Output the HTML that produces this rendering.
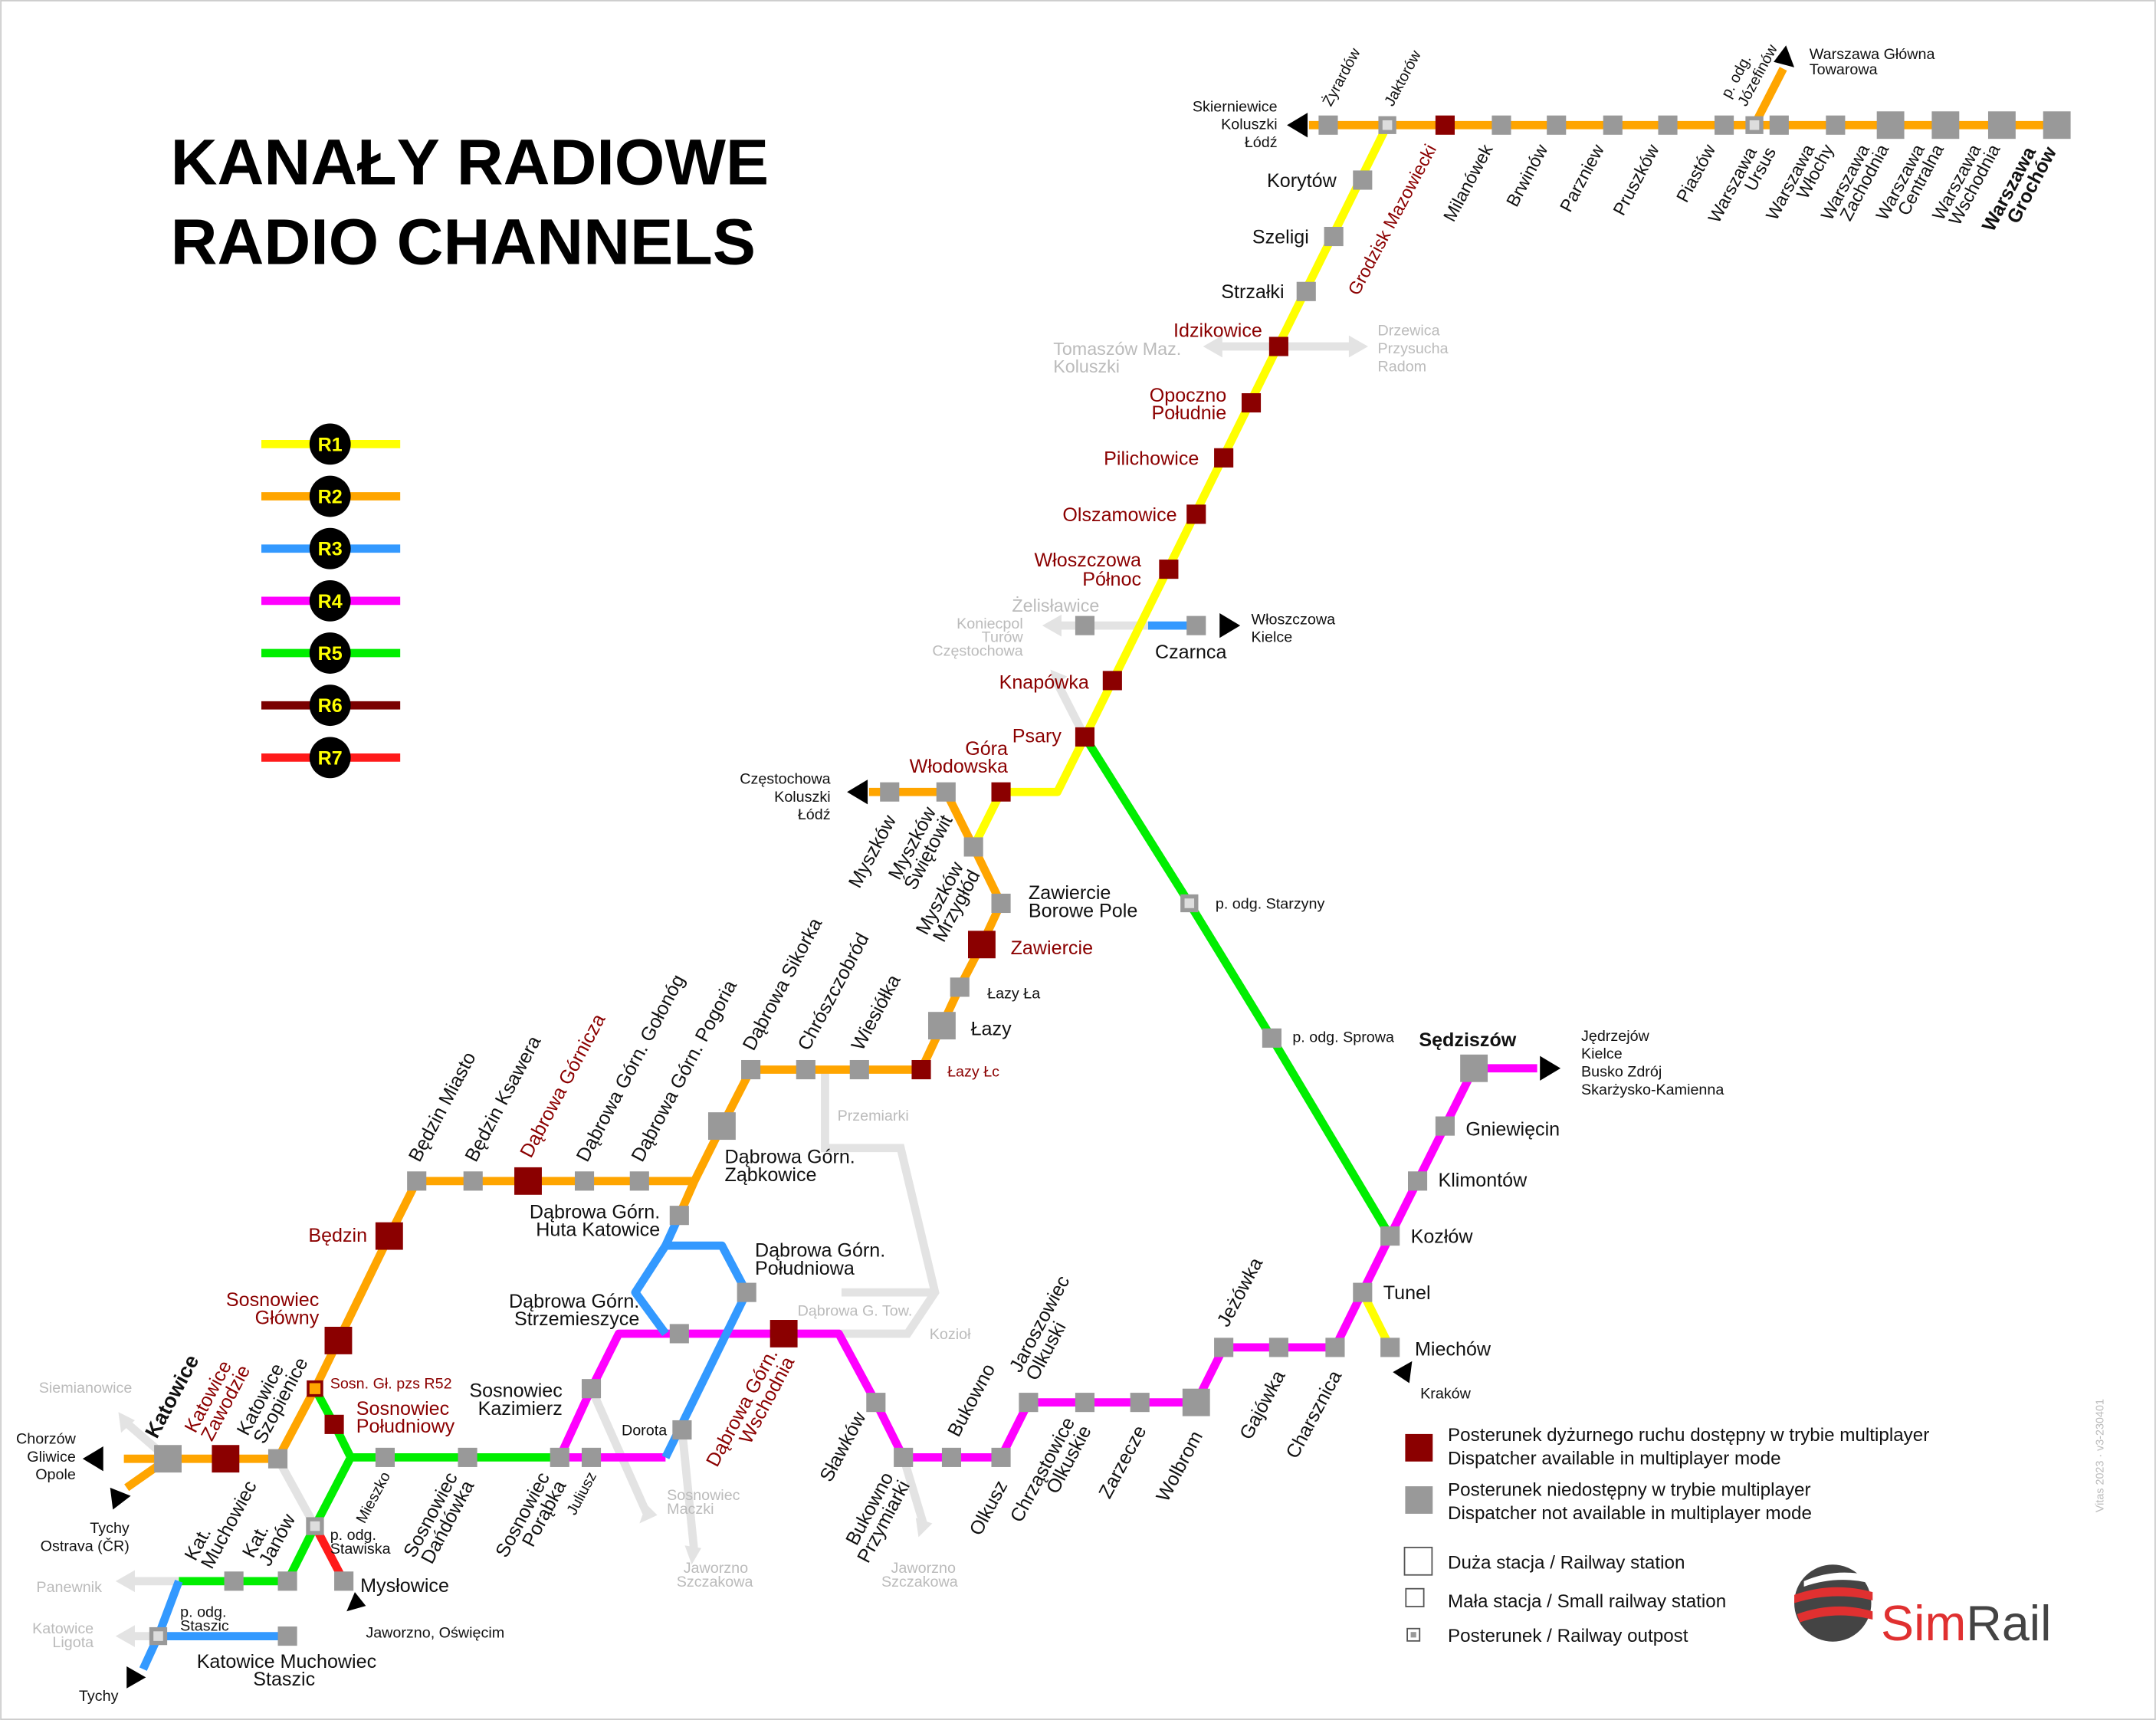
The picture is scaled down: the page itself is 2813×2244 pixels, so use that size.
<!DOCTYPE html>
<html><head><meta charset="utf-8"><style>
html,body{margin:0;padding:0;background:#fff}
svg{display:block}
text{font-family:"Liberation Sans","DejaVu Sans",sans-serif;font-size:13px;fill:#111}
.r{fill:#8b0000}
.lg{fill:#bbb;font-size:11px}
.s{font-size:11px}
.t{font-size:14px}
</style></head><body>
<svg width="2813" height="2244" viewBox="0 0 1568 1251" xmlns="http://www.w3.org/2000/svg">
<rect x="0" y="0" width="1568" height="1251" fill="#fff"/>
<rect x="0.5" y="0.5" width="1567" height="1250" fill="none" stroke="#ccc"/>
<text x="124" y="134" style="font-size:47px;font-weight:bold;fill:#000">KANAŁY RADIOWE</text>
<text x="124" y="192" style="font-size:47px;font-weight:bold;fill:#000">RADIO CHANNELS</text>
<g stroke-width="6">
<line x1="190" y1="323" x2="291" y2="323" stroke="#ffff00"/>
<line x1="190" y1="361" x2="291" y2="361" stroke="#ffa500"/>
<line x1="190" y1="399" x2="291" y2="399" stroke="#3399ff"/>
<line x1="190" y1="437" x2="291" y2="437" stroke="#ff00ff"/>
<line x1="190" y1="475" x2="291" y2="475" stroke="#00ee00"/>
<line x1="190" y1="513" x2="291" y2="513" stroke="#7a0000"/>
<line x1="190" y1="551" x2="291" y2="551" stroke="#ff1a1a"/>
</g>
<g fill="#000">
<circle cx="240" cy="323" r="15"/><circle cx="240" cy="361" r="15"/><circle cx="240" cy="399" r="15"/><circle cx="240" cy="437" r="15"/><circle cx="240" cy="475" r="15"/><circle cx="240" cy="513" r="15"/><circle cx="240" cy="551" r="15"/>
</g>
<g text-anchor="middle">
<text x="240" y="328" style="fill:#ff0;font-weight:bold;font-size:14px">R1</text><text x="240" y="366" style="fill:#ff0;font-weight:bold;font-size:14px">R2</text><text x="240" y="404" style="fill:#ff0;font-weight:bold;font-size:14px">R3</text><text x="240" y="442" style="fill:#ff0;font-weight:bold;font-size:14px">R4</text><text x="240" y="480" style="fill:#ff0;font-weight:bold;font-size:14px">R5</text><text x="240" y="518" style="fill:#ff0;font-weight:bold;font-size:14px">R6</text><text x="240" y="556" style="fill:#ff0;font-weight:bold;font-size:14px">R7</text>
</g>

<g stroke="#e3e3e3" stroke-width="6" fill="none">
<line x1="885" y1="252" x2="985" y2="252"/>
<line x1="768" y1="455" x2="835" y2="455"/>
<line x1="789" y1="536" x2="768" y2="495"/>
<polyline points="600,778 600,835 655,835 680,940 660,970 610,970"/>
<line x1="612" y1="940" x2="680" y2="940"/>
<line x1="657" y1="1060" x2="672" y2="1110"/>
<polyline points="202,1061 229,1110"/>
<polyline points="430,1010 470,1100"/>
<line x1="496" y1="1040" x2="505" y2="1130"/>
<line x1="90" y1="1150" x2="130" y2="1150"/>
<line x1="90" y1="1190" x2="115" y2="1190"/>
<line x1="92" y1="1035" x2="122" y2="1061"/>
</g>
<g fill="#e3e3e3">
<polygon points="875,252 889,244 889,260"/><polygon points="995,252 981,244 981,260"/>
<polygon points="758,455 772,447 772,463"/>
<polygon points="764,487 776,492 766,500"/>
<polygon points="84,1150 98,1142 98,1158"/><polygon points="84,1190 98,1182 98,1198"/>
<polygon points="86,1027 98,1033 88,1042"/>
<polygon points="465,1108 470,1094 478,1102"/>
<polygon points="503,1138 498,1124 510,1126"/>
<polygon points="668,1118 666,1104 678,1108"/>
</g>

<g stroke-width="6" fill="none" stroke-linejoin="round">
<line x1="952" y1="91" x2="1505" y2="91" stroke="#ffa500"/>
<line x1="1276" y1="91" x2="1297" y2="50" stroke="#ffa500"/>
<polyline points="1009,91 789,536 769,576 728,576 708,616" stroke="#ffff00"/>
<line x1="835" y1="455" x2="870" y2="455" stroke="#3399ff"/>
<polyline points="632,576 688,576 708,616 728,657 714,687 698,718 685,746 670,778 546,778 525,819 505,859 494,884" stroke="#ffa500"/>
<polyline points="505,859 303,859 283,899 246,975 229,1010 202,1061 90,1061" stroke="#ffa500"/>
<line x1="122" y1="1061" x2="92" y2="1082" stroke="#ffa500"/>
<polyline points="789,536 865,657 925,755 1011,899" stroke="#00ee00"/>
<polyline points="1118,777 1072,777 1011,899 971,980 890,980 870,1020 748,1020 728,1060 657,1060 637,1020 610,970 450,970 430,1010 407,1060 484,1060" stroke="#ff00ff"/>
<polyline points="991,940 1011,980" stroke="#ffff00"/>
<polyline points="494,884 484,906 525,906 543,940 484,1060" stroke="#3399ff"/>
<polyline points="484,906 462,940 484,970" stroke="#3399ff"/>
<polyline points="229,1010 243,1036 255,1060 407,1060" stroke="#00ee00"/>
<polyline points="255,1060 229,1110 209,1150 130,1150" stroke="#00ee00"/>
<polyline points="130,1150 115,1190 104,1214" stroke="#3399ff"/>
<line x1="115" y1="1190" x2="209" y2="1190" stroke="#3399ff"/>
<line x1="229" y1="1110" x2="250" y2="1150" stroke="#ff1a1a"/>
</g>

<g fill="#000">
<polygon points="936,91 951,82 951,100"/>
<polygon points="1299,33 1305,49 1290,45"/>
<polygon points="616,576 631,567 631,585"/>
<polygon points="902,455 887,446 887,464"/>
<polygon points="1135,777 1120,768 1120,786"/>
<polygon points="1013,998 1027,990 1025,1006"/>
<polygon points="60,1061 75,1052 75,1070"/>
<polygon points="82,1098 80,1082 95,1088"/>
<polygon points="252,1172 258,1158 266,1168"/>
<polygon points="92,1228 92,1212 106,1220"/>
</g>

<g fill="#999">
<rect x="959" y="84" width="14" height="14"/><rect x="1085" y="84" width="14" height="14"/><rect x="1125" y="84" width="14" height="14"/><rect x="1166" y="84" width="14" height="14"/><rect x="1206" y="84" width="14" height="14"/><rect x="1247" y="84" width="14" height="14"/><rect x="1287" y="84" width="14" height="14"/><rect x="1328" y="84" width="14" height="14"/>
<rect x="1365" y="81" width="20" height="20"/><rect x="1405" y="81" width="20" height="20"/><rect x="1446" y="81" width="20" height="20"/><rect x="1486" y="81" width="20" height="20"/>
<rect x="984" y="124" width="14" height="14"/><rect x="963" y="165" width="14" height="14"/><rect x="943" y="205" width="14" height="14"/>
<rect x="863" y="448" width="14" height="14"/><rect x="782" y="448" width="14" height="14"/>
<rect x="640" y="569" width="14" height="14"/><rect x="681" y="569" width="14" height="14"/><rect x="701" y="609" width="14" height="14"/><rect x="721" y="650" width="14" height="14"/><rect x="691" y="711" width="14" height="14"/><rect x="675" y="736" width="20" height="20"/>
<rect x="539" y="771" width="14" height="14"/><rect x="579" y="771" width="14" height="14"/><rect x="618" y="771" width="14" height="14"/><rect x="515" y="809" width="20" height="20"/>
<rect x="296" y="852" width="14" height="14"/><rect x="337" y="852" width="14" height="14"/><rect x="418" y="852" width="14" height="14"/><rect x="458" y="852" width="14" height="14"/><rect x="487" y="877" width="14" height="14"/>
<rect x="536" y="933" width="14" height="14"/><rect x="487" y="963" width="14" height="14"/><rect x="489" y="1033" width="14" height="14"/>
<rect x="423" y="1003" width="14" height="14"/><rect x="400" y="1053" width="14" height="14"/><rect x="423" y="1053" width="14" height="14"/><rect x="273" y="1053" width="14" height="14"/><rect x="333" y="1053" width="14" height="14"/>
<rect x="195" y="1054" width="14" height="14"/><rect x="112" y="1051" width="20" height="20"/>
<rect x="163" y="1143" width="14" height="14"/><rect x="202" y="1143" width="14" height="14"/><rect x="202" y="1183" width="14" height="14"/><rect x="243" y="1143" width="14" height="14"/>
<rect x="1044" y="812" width="14" height="14"/><rect x="1024" y="852" width="14" height="14"/><rect x="1004" y="892" width="14" height="14"/><rect x="984" y="933" width="14" height="14"/><rect x="1004" y="973" width="14" height="14"/><rect x="964" y="973" width="14" height="14"/><rect x="923" y="973" width="14" height="14"/><rect x="883" y="973" width="14" height="14"/>
<rect x="1062" y="767" width="20" height="20"/><rect x="860" y="1010" width="20" height="20"/>
<rect x="822" y="1013" width="14" height="14"/><rect x="782" y="1013" width="14" height="14"/><rect x="741" y="1013" width="14" height="14"/><rect x="721" y="1053" width="14" height="14"/><rect x="685" y="1053" width="14" height="14"/><rect x="650" y="1053" width="14" height="14"/><rect x="630" y="1013" width="14" height="14"/>
<rect x="918" y="748" width="14" height="14"/>
</g>
<g fill="#ddd" stroke="#999" stroke-width="3">
<rect x="1004" y="86" width="10" height="10"/><rect x="1271" y="86" width="10" height="10"/><rect x="860" y="652" width="10" height="10"/><rect x="224" y="1105" width="10" height="10"/><rect x="110" y="1185" width="10" height="10"/>
</g>
<rect x="224" y="1005" width="10" height="10" fill="#ffa500" stroke="#8b0000" stroke-width="2"/>
<g fill="#8b0000">
<rect x="1044" y="84" width="14" height="14"/><rect x="923" y="245" width="14" height="14"/><rect x="903" y="286" width="14" height="14"/><rect x="883" y="326" width="14" height="14"/><rect x="863" y="367" width="14" height="14"/><rect x="843" y="407" width="14" height="14"/><rect x="802" y="488" width="14" height="14"/><rect x="782" y="529" width="14" height="14"/><rect x="721" y="569" width="14" height="14"/>
<rect x="704" y="677" width="20" height="20"/><rect x="663" y="771" width="14" height="14"/>
<rect x="374" y="849" width="20" height="20"/><rect x="273" y="889" width="20" height="20"/><rect x="236" y="965" width="20" height="20"/><rect x="236" y="1029" width="14" height="14"/><rect x="154" y="1051" width="20" height="20"/>
<rect x="560" y="960" width="20" height="20"/>
</g>

<!-- top rotated labels (below line, end anchor) -->
<g text-anchor="end">
<text transform="translate(1045,108) rotate(-62)" style="fill:#8b0000">Grodzisk Mazowiecki</text>
<text transform="translate(1086,108) rotate(-62)">Milanówek</text>
<text transform="translate(1126,108) rotate(-62)">Brwinów</text>
<text transform="translate(1167,108) rotate(-62)">Parzniew</text>
<text transform="translate(1207,108) rotate(-62)">Pruszków</text>
<text transform="translate(1248,108) rotate(-62)">Piastów</text>
<text transform="translate(1278,110) rotate(-62)">Warszawa</text><text transform="translate(1292,110) rotate(-62)">Ursus</text>
<text transform="translate(1320,108) rotate(-62)">Warszawa</text><text transform="translate(1334,108) rotate(-62)">Włochy</text>
<text transform="translate(1360,108) rotate(-62)">Warszawa</text><text transform="translate(1374,108) rotate(-62)">Zachodnia</text>
<text transform="translate(1400,108) rotate(-62)">Warszawa</text><text transform="translate(1414,108) rotate(-62)">Centralna</text>
<text transform="translate(1441,108) rotate(-62)">Warszawa</text><text transform="translate(1455,108) rotate(-62)">Wschodnia</text>
<text transform="translate(1481,110) rotate(-62)" style="font-weight:bold;font-size:14px">Warszawa</text><text transform="translate(1496,110) rotate(-62)" style="font-weight:bold;font-size:14px">Grochów</text>
</g>
<!-- top above-line labels -->
<text transform="translate(968,78) rotate(-62)" class="s">Żyrardów</text>
<text transform="translate(1013,78) rotate(-62)" class="s">Jaktorów</text>
<text transform="translate(1258,72) rotate(-62)" class="s">p. odg.</text><text transform="translate(1270,78) rotate(-62)" class="s">Józefinów</text>

<text x="1316" y="43" class="s">Warszawa Główna</text><text x="1316" y="54" class="s">Towarowa</text>
<g text-anchor="end">
<text x="929" y="81" class="s">Skierniewice</text><text x="929" y="94" class="s">Koluszki</text><text x="929" y="107" class="s">Łódź</text>
</g>
<g text-anchor="end">
<text x="972" y="136" class="t">Korytów</text>
<text x="952" y="177" class="t">Szeligi</text>
<text x="934" y="217" class="t">Strzałki</text>
<text x="918" y="245" class="r t">Idzikowice</text>
<text x="892" y="292" class="r t">Opoczno</text><text x="892" y="305" class="r t">Południe</text>
<text x="872" y="338" class="r t">Pilichowice</text>
<text x="856" y="379" class="r t">Olszamowice</text>
<text x="830" y="412" class="r t">Włoszczowa</text><text x="830" y="426" class="r t">Północ</text>
<text x="792" y="501" class="r t">Knapówka</text>
<text x="772" y="540" class="r t">Psary</text>
<text x="733" y="549" class="r t">Góra</text><text x="733" y="562" class="r t">Włodowska</text>
</g>
<text x="766" y="258" class="lg" style="font-size:13px">Tomaszów Maz.</text><text x="766" y="271" class="lg" style="font-size:13px">Koluszki</text>
<text x="1002" y="244" class="lg">Drzewica</text><text x="1002" y="257" class="lg">Przysucha</text><text x="1002" y="270" class="lg">Radom</text>
<text x="736" y="445" class="lg" style="font-size:13px">Żelisławice</text>
<g text-anchor="end"><text x="744" y="457" class="lg">Koniecpol</text><text x="744" y="467" class="lg">Turów</text><text x="744" y="477" class="lg">Częstochowa</text></g>
<text x="840" y="479" class="t">Czarnca</text>
<text x="910" y="454" class="s">Włoszczowa</text><text x="910" y="467" class="s">Kielce</text>
<g text-anchor="end"><text x="604" y="570" class="s">Częstochowa</text><text x="604" y="583" class="s">Koluszki</text><text x="604" y="596" class="s">Łódź</text></g>

<!-- below-line rotated labels (end anchor) -->
<g text-anchor="end" style="font-size:14px">
<text transform="translate(652,596) rotate(-62)" class="t">Myszków</text>
<text transform="translate(681,590) rotate(-62)" class="t">Myszków</text><text transform="translate(693,596) rotate(-62)" class="t">Świętowit</text>
<text transform="translate(701,630) rotate(-62)" class="t">Myszków</text><text transform="translate(713,636) rotate(-62)" class="t">Mrzygłód</text>
<text transform="translate(284,1073) rotate(-62)" class="s">Mieszko</text>
<text transform="translate(333,1074) rotate(-62)" class="t">Sosnowiec</text><text transform="translate(345,1080) rotate(-62)" class="t">Dańdówka</text>
<text transform="translate(400,1074) rotate(-62)" class="t">Sosnowiec</text><text transform="translate(412,1080) rotate(-62)" class="t">Porąbka</text>
<text transform="translate(434,1073) rotate(-62)" class="s">Juliusz</text>
<text transform="translate(566,984) rotate(-62)" class="t r">Dąbrowa Górn.</text><text transform="translate(578,990) rotate(-62)" class="t r">Wschodnia</text>
<text transform="translate(630,1030) rotate(-62)" class="t">Sławków</text>
<text transform="translate(650,1074) rotate(-62)" class="t">Bukowno</text><text transform="translate(662,1080) rotate(-62)" class="t">Przymiarki</text>
<text transform="translate(733,1080) rotate(-62)" class="t">Olkusz</text>
<text transform="translate(782,1034) rotate(-62)" class="t">Chrząstowice</text><text transform="translate(794,1040) rotate(-62)" class="t">Olkuskie</text>
<text transform="translate(834,1040) rotate(-62)" class="t">Zarzecze</text>
<text transform="translate(875,1044) rotate(-62)" class="t">Wolbrom</text>
<text transform="translate(935,1000) rotate(-62)" class="t">Gajówka</text>
<text transform="translate(976,1000) rotate(-62)" class="t">Charsznica</text>
</g>
<!-- above-line rotated labels (start anchor) -->
<g>
<text transform="translate(548,765) rotate(-62)" class="t">Dąbrowa Sikorka</text>
<text transform="translate(588,765) rotate(-62)" class="t">Chrószczobród</text>
<text transform="translate(627,765) rotate(-62)" class="t">Wiesiółka</text>
<text transform="translate(305,846) rotate(-62)" class="t">Będzin Miasto</text>
<text transform="translate(346,846) rotate(-62)" class="t">Będzin Ksawera</text>
<text transform="translate(386,843) rotate(-62)" class="t r">Dąbrowa Górnicza</text>
<text transform="translate(427,846) rotate(-62)" class="t">Dąbrowa Górn. Gołonóg</text>
<text transform="translate(467,846) rotate(-62)" class="t">Dąbrowa Górn. Pogoria</text>
<text transform="translate(114,1047) rotate(-62)" style="font-weight:bold;font-size:15px">Katowice</text>
<text transform="translate(142,1043) rotate(-62)" class="t r">Katowice</text><text transform="translate(154,1049) rotate(-62)" class="t r">Zawodzie</text>
<text transform="translate(180,1045) rotate(-62)" class="t">Katowice</text><text transform="translate(192,1051) rotate(-62)" class="t">Szopienice</text>
<text transform="translate(142,1136) rotate(-62)" class="t">Kat.</text><text transform="translate(154,1142) rotate(-62)" class="t">Muchowiec</text>
<text transform="translate(184,1134) rotate(-62)" class="t">Kat.</text><text transform="translate(196,1140) rotate(-62)" class="t">Janów</text>
<text transform="translate(697,1046) rotate(-62)" class="t">Bukowno</text>
<text transform="translate(742,999) rotate(-62)" class="t">Jaroszowiec</text><text transform="translate(754,1005) rotate(-62)" class="t">Olkuski</text>
<text transform="translate(893,966) rotate(-62)" class="t">Jeżówka</text>
</g>

<text x="748" y="654" class="t">Zawiercie</text><text x="748" y="667" class="t">Borowe Pole</text>
<text x="735" y="694" class="r t">Zawiercie</text>
<text x="718" y="726" class="s">Łazy Ła</text>
<text x="706" y="753" class="t">Łazy</text>
<text x="689" y="783" class="s r">Łazy Łc</text>
<text x="609" y="815" class="lg">Przemiarki</text>
<text x="527" y="846" class="t">Dąbrowa Górn.</text><text x="527" y="859" class="t">Ząbkowice</text>
<g text-anchor="end">
<text x="480" y="886" class="t">Dąbrowa Górn.</text><text x="480" y="899" class="t">Huta Katowice</text>
<text x="267" y="903" class="r t">Będzin</text>
<text x="232" y="950" class="r t">Sosnowiec</text><text x="232" y="963" class="r t">Główny</text>
<text x="465" y="951" class="t">Dąbrowa Górn.</text><text x="465" y="964" class="t">Strzemieszyce</text>
<text x="409" y="1016" class="t">Sosnowiec</text><text x="409" y="1029" class="t">Kazimierz</text>
<text x="96" y="1013" class="lg">Siemianowice</text>
<text x="55" y="1050" class="s">Chorzów</text><text x="55" y="1063" class="s">Gliwice</text><text x="55" y="1076" class="s">Opole</text>
<text x="94" y="1115" class="s">Tychy</text><text x="94" y="1128" class="s">Ostrava (ČR)</text>
<text x="74" y="1158" class="lg">Panewnik</text>
<text x="68" y="1188" class="lg">Katowice</text><text x="68" y="1198" class="lg">Ligota</text>
<text x="86" y="1237" class="s">Tychy</text>
</g>
<text x="549" y="914" class="t">Dąbrowa Górn.</text><text x="549" y="927" class="t">Południowa</text>
<text x="580" y="957" class="lg">Dąbrowa G. Tow.</text>
<text x="676" y="974" class="lg">Kozioł</text>
<text x="452" y="1044" class="s">Dorota</text>
<text x="240" y="1010" class="s r">Sosn. Gł. pzs R52</text>
<text x="259" y="1029" class="r t">Sosnowiec</text><text x="259" y="1042" class="r t">Południowy</text>
<text x="240" y="1120" class="s">p. odg.</text><text x="240" y="1130" class="s">Stawiska</text>
<text x="262" y="1158" class="t">Mysłowice</text>
<text x="266" y="1191" class="s">Jaworzno, Oświęcim</text>
<text x="131" y="1176" class="s">p. odg.</text><text x="131" y="1186" class="s">Staszic</text>
<text x="143" y="1213" class="t">Katowice Muchowiec</text><text x="184" y="1226" class="t">Staszic</text>
<text x="485" y="1091" class="lg">Sosnowiec</text><text x="485" y="1101" class="lg">Maczki</text>
<text x="497" y="1144" class="lg">Jaworzno</text><text x="492" y="1154" class="lg">Szczakowa</text>
<text x="648" y="1144" class="lg">Jaworzno</text><text x="641" y="1154" class="lg">Szczakowa</text>
<text x="884" y="661" class="s">p. odg. Starzyny</text>
<text x="940" y="758" class="s">p. odg. Sprowa</text>
<text x="1032" y="761" style="font-weight:bold;font-size:14px">Sędziszów</text>
<text x="1150" y="757" class="s">Jędrzejów</text><text x="1150" y="770" class="s">Kielce</text><text x="1150" y="783" class="s">Busko Zdrój</text><text x="1150" y="796" class="s">Skarżysko-Kamienna</text>
<text x="1066" y="826" class="t">Gniewięcin</text>
<text x="1046" y="863" class="t">Klimontów</text>
<text x="1026" y="904" class="t">Kozłów</text>
<text x="1006" y="945" class="t">Tunel</text>
<text x="1029" y="986" class="t">Miechów</text>
<text x="1033" y="1017" class="s">Kraków</text>

<rect x="1022" y="1043" width="20" height="20" fill="#8b0000"/>
<text x="1053" y="1048" style="font-size:13.5px">Posterunek dyżurnego ruchu dostępny w trybie multiplayer</text>
<text x="1053" y="1065" style="font-size:13.5px">Dispatcher available in multiplayer mode</text>
<rect x="1022" y="1081" width="20" height="20" fill="#999"/>
<text x="1053" y="1088" style="font-size:13.5px">Posterunek niedostępny w trybie multiplayer</text>
<text x="1053" y="1105" style="font-size:13.5px">Dispatcher not available in multiplayer mode</text>
<rect x="1021.5" y="1125.5" width="20" height="20" fill="#fff" stroke="#555"/>
<text x="1053" y="1141" style="font-size:13.5px">Duża stacja / Railway station</text>
<rect x="1022.5" y="1155.5" width="13" height="13" fill="#fff" stroke="#555"/>
<text x="1053" y="1169" style="font-size:13.5px">Mała stacja / Small railway station</text>
<rect x="1023.5" y="1184.5" width="9" height="9" fill="#fff" stroke="#555"/><rect x="1026" y="1187" width="4" height="4" fill="#999"/>
<text x="1053" y="1194" style="font-size:13.5px">Posterunek / Railway outpost</text>
<text transform="translate(1530,1100) rotate(-90)" style="font-size:8px;fill:#bbb">Vitas 2023 · v3-230401</text>
<g>
<circle cx="1333" cy="1166" r="28" fill="#444"/>
<path d="M1305,1160 Q1333,1150 1362,1158 L1362,1164 Q1333,1157 1305,1166Z" fill="#e03030"/>
<path d="M1307,1174 Q1335,1164 1362,1172 L1362,1178 Q1335,1171 1309,1180Z" fill="#e03030"/>
<path d="M1312,1150 Q1335,1140 1360,1146 L1358,1151 Q1335,1146 1312,1154Z" fill="#fff"/>
<text x="1368" y="1193" style="font-size:36px;fill:#e03030">Sim<tspan style="fill:#444">Rail</tspan></text>
</g>
</svg>
</body></html>
